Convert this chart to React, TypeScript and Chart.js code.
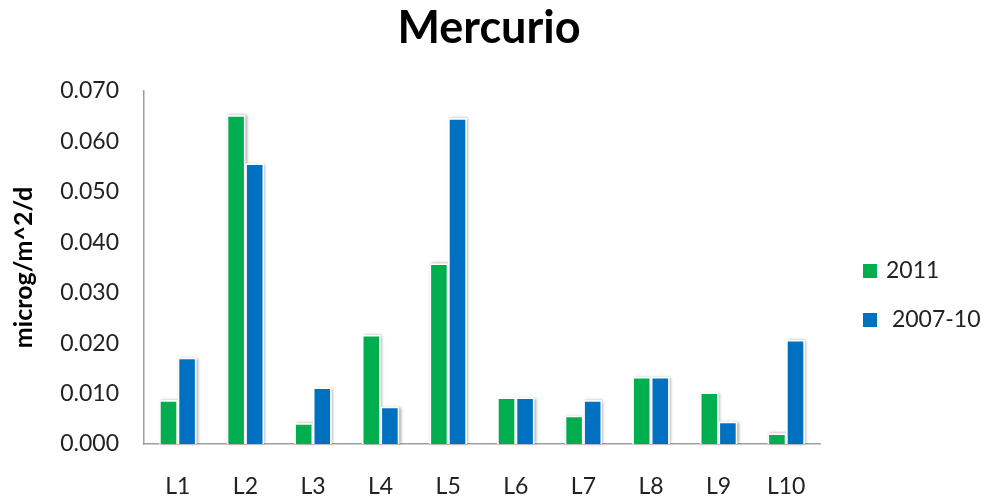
import React, { useEffect, useRef } from "react";
import { Chart, registerables } from "chart.js";

Chart.register(...registerables);

const categories = ["L1", "L2", "L3", "L4", "L5", "L6", "L7", "L8", "L9", "L10"];
const series2011 = [0.0087, 0.0652, 0.0041, 0.0216, 0.0358, 0.0092, 0.0056, 0.0133, 0.0102, 0.0021];
const series200710 = [0.0171, 0.0556, 0.0112, 0.0074, 0.0646, 0.0092, 0.0087, 0.0133, 0.0044, 0.0206];
const seriesNames = ["2011", " 2007-10"];
const seriesColors = ["#00AD4F", "#0070C0"];
const yTicks = [0, 0.01, 0.02, 0.03, 0.04, 0.05, 0.06, 0.07];

const FONT = "Lato, 'Open Sans', sans-serif";

// Soft drop shadow behind each bar, drawn from the bar elements' own geometry
const barShadow = {
  id: "barShadow",
  beforeDatasetsDraw(chart: any) {
    const ctx = chart.ctx;
    ctx.save();
    chart.data.datasets.forEach((_: any, i: number) => {
      const meta = chart.getDatasetMeta(i);
      meta.data.forEach((bar: any) => {
        const p = bar.getProps(["x", "y", "base", "width"], true);
        const left = p.x - p.width / 2;
        const top = Math.min(p.y, p.base);
        const h = Math.abs(p.base - p.y);
        ctx.shadowColor = "rgba(0,0,0,0.35)";
        ctx.shadowBlur = 3;
        ctx.shadowOffsetX = 1.5;
        ctx.shadowOffsetY = 0;
        ctx.fillStyle = "#ffffff";
        ctx.fillRect(left, top, p.width, h);
      });
    });
    ctx.restore();
  },
};

// Legend to the right of the plot, one row per dataset
const sideLegend = {
  id: "sideLegend",
  afterDraw(chart: any) {
    const ctx = chart.ctx;
    const area = chart.chartArea;
    const rowY = [180, 229];
    ctx.save();
    ctx.font = `23px ${FONT}`;
    ctx.textBaseline = "middle";
    ctx.textAlign = "left";
    chart.data.datasets.forEach((ds: any, i: number) => {
      const cy = area.top + rowY[i];
      const bx = area.right + 43;
      ctx.fillStyle = ds.backgroundColor;
      ctx.fillRect(bx, cy - 7, 14, 14);
      ctx.fillStyle = "#222";
      ctx.fillText(ds.label, bx + 23, cy);
    });
    ctx.restore();
  },
};

export default function App() {
  const ref = useRef<HTMLCanvasElement>(null);

  useEffect(() => {
    if (!ref.current) return;
    const chart = new Chart(ref.current, {
      type: "bar",
      data: {
        labels: categories,
        datasets: [
          {
            label: seriesNames[0],
            data: series2011,
            backgroundColor: seriesColors[0],
            borderColor: "#ffffff",
            borderWidth: 1.5,
            categoryPercentage: 0.55,
            barPercentage: 1,
          },
          {
            label: seriesNames[1],
            data: series200710,
            backgroundColor: seriesColors[1],
            borderColor: "#ffffff",
            borderWidth: 1.5,
            categoryPercentage: 0.55,
            barPercentage: 1,
          },
        ],
      },
      options: {
        animation: false,
        responsive: true,
        maintainAspectRatio: false,
        layout: { padding: { left: 9, right: 16, top: 0, bottom: 0 } },
        plugins: {
          title: {
            display: true,
            text: "Mercurio",
            color: "#000",
            font: { family: FONT, size: 45, weight: "bold" },
            padding: { top: 1, bottom: 36 },
          },
          legend: { display: false },
          tooltip: { enabled: false },
        },
        scales: {
          x: {
            grid: { display: false, drawTicks: false },
            border: { display: true, color: "#a0a0a0", width: 1.5 },
            ticks: {
              color: "#222",
              font: { family: FONT, size: 23 },
              padding: 29,
              maxRotation: 0,
            },
            afterFit(axis: any) {
              axis.height = 53;
            },
          },
          y: {
            min: 0,
            max: 0.07,
            afterBuildTicks(axis: any) {
              axis.ticks = yTicks.map((v) => ({ value: v }));
            },
            grid: { display: false, drawTicks: false },
            border: { display: true, color: "#a0a0a0", width: 1.5 },
            ticks: {
              color: "#222",
              font: { family: FONT, size: 23 },
              padding: 25,
              callback: (v: any) => Number(v).toFixed(3),
            },
            title: {
              display: true,
              text: "microg/m^2/d",
              color: "#000",
              font: { family: FONT, size: 25, weight: "bold" },
              padding: { top: 0, bottom: 21 },
            },
            afterFit(axis: any) {
              axis.width = 135;
            },
          },
          // empty right-hand axis that reserves the room where the legend sits
          legendRoom: {
            type: "linear",
            position: "right",
            display: true,
            grid: { display: false, drawTicks: false },
            border: { display: false },
            ticks: { display: false },
            afterFit(axis: any) {
              axis.width = 149;
            },
          },
        },
      },
      plugins: [barShadow, sideLegend],
    });
    return () => chart.destroy();
  }, []);

  return (
    <div style={{ position: "absolute", left: 0, top: 0, width: 985, height: 497, background: "#fff" }}>
      <canvas ref={ref} />
    </div>
  );
}
